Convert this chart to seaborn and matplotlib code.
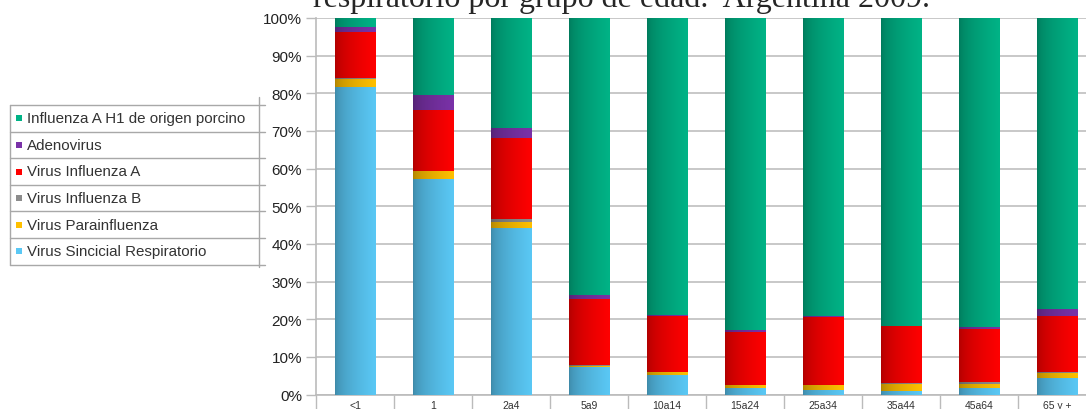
import numpy as np
import pandas as pd
import matplotlib
matplotlib.use("Agg")
import matplotlib.pyplot as plt
import seaborn as sns
from matplotlib.colors import to_rgb
from matplotlib.lines import Line2D
from matplotlib.patches import Rectangle

# grupos de edad y % de cada virus
grupos = ["<1", "1", "2a4", "5a9", "10a14", "15a24", "25a34", "35a44", "45a64", "65 y +"]

vsr = [81.7, 57.2, 44.3, 7.2, 5.2, 1.7, 1.3, 1.0, 1.7, 4.4]
parainf = [2.2, 2.2, 1.5, 0.5, 0.7, 0.7, 1.2, 1.8, 1.1, 1.2]
flu_b = [0.1, 0.0, 0.8, 0.1, 0.1, 0.1, 0.1, 0.2, 0.6, 0.4]
flu_a = [12.2, 16.1, 21.4, 17.5, 14.9, 14.2, 17.9, 15.2, 14.0, 14.8]
adeno = [1.4, 4.0, 2.7, 1.0, 0.1, 0.4, 0.3, 0.1, 0.5, 1.8]
h1 = [2.4, 20.5, 29.3, 73.7, 79.0, 82.9, 79.2, 81.7, 82.1, 77.4]

series = ["Virus Sincicial Respiratorio", "Virus Parainfluenza", "Virus Influenza B",
          "Virus Influenza A", "Adenovirus", "Influenza A H1 de origen porcino"]
colores = ["#5ac8f5", "#ffc000", "#8c8c8c", "#ff0000", "#7a32a8", "#00b386"]

df = pd.DataFrame({"grupo": grupos, series[0]: vsr, series[1]: parainf, series[2]: flu_b,
                   series[3]: flu_a, series[4]: adeno, series[5]: h1})
acum = df[series].cumsum(axis=1)
acum["grupo"] = grupos

W, H = 1086, 410
sns.set_theme(style="white")
plt.rcParams["font.family"] = ["Liberation Sans", "DejaVu Sans"]

fig = plt.figure(figsize=(W / 100, H / 100), dpi=100)
ax = fig.add_axes([316 / W, 14.5 / H, 780 / W, 376.5 / H])


def gradiente(ax, patches, color, z):
    base = np.array(to_rgb(color))
    oscuro = base * 0.68
    t = np.linspace(0, 1, 64) ** 0.55
    img = oscuro[None, :] * (1 - t[:, None]) + base[None, :] * t[:, None]
    img = img[None, :, :]
    for p in patches:
        x, y = p.get_x(), p.get_y()
        w, h = p.get_width(), p.get_height()
        if h <= 0:
            continue
        ax.imshow(img, extent=[x, x + w, y, y + h], aspect="auto",
                  zorder=z, interpolation="bilinear")
        p.set_visible(False)


# barras apiladas: de arriba hacia abajo
for i in range(len(series) - 1, -1, -1):
    n0 = len(ax.patches)
    sns.barplot(data=acum, x="grupo", y=series[i], color=colores[i], width=0.513,
                saturation=1, ax=ax, linewidth=0, order=grupos)
    gradiente(ax, ax.patches[n0:], colores[i], z=10 - i)

ax.set_xlim(-0.5, 9.5)
ax.set_ylim(0, 100)
ax.set_xlabel("")
ax.set_ylabel("")

ax.set_yticks(np.arange(0, 101, 10))
ax.set_yticklabels([f"{v}%" for v in range(0, 101, 10)], fontsize=11, color="#222222")
ax.yaxis.grid(True, color="#c4c4c4", linewidth=1.3)
ax.set_axisbelow(True)
ax.tick_params(axis="y", length=7, color="#bbbbbb", width=1, pad=3, left=True)

# eje x como tabla: separadores en los limites, etiquetas al centro
ax.set_xticks(np.arange(-0.5, 10, 1))
ax.set_xticklabels([])
ax.set_xticks(np.arange(10), minor=True)
ax.set_xticklabels(grupos, minor=True, fontsize=7.5, color="#333333")
ax.tick_params(axis="x", which="major", length=16, color="#bbbbbb", width=1, bottom=True)
ax.tick_params(axis="x", which="minor", length=0, pad=4)

for s in ["top", "right"]:
    ax.spines[s].set_visible(False)
for s in ["left", "bottom"]:
    ax.spines[s].set_color("#bbbbbb")
    ax.spines[s].set_linewidth(1.2)

# titulo cortado arriba
fig.text(313 / W, 1 - 7.5 / H, "respiratorio por grupo de edad.  Argentina 2009.",
         family=["Liberation Serif", "DejaVu Serif"], fontsize=23, ha="left", va="baseline")

# leyenda tipo tabla
filas = [105.7, 132.7, 159, 186, 212, 239, 265.7]
gris = "#a8a8a8"
for yy in filas:
    fig.add_artist(Line2D([10 / W, 265 / W], [1 - yy / H, 1 - yy / H], color=gris, lw=1))
fig.add_artist(Line2D([10 / W, 10 / W], [1 - filas[0] / H, 1 - filas[-1] / H], color=gris, lw=1))
fig.add_artist(Line2D([259 / W, 259 / W], [1 - 98 / H, 1 - 268 / H], color=gris, lw=1))

for k, i in enumerate(range(len(series) - 1, -1, -1)):
    yc = (filas[k] + filas[k + 1]) / 2
    fig.add_artist(Rectangle((16 / W, 1 - (yc + 3) / H), 6 / W, 6 / H,
                             transform=fig.transFigure, color=colores[i], lw=0))
    fig.text(27 / W, 1 - yc / H, series[i], fontsize=10.9, color="#333333",
             ha="left", va="center")

fig.savefig("out.png", dpi=100)
